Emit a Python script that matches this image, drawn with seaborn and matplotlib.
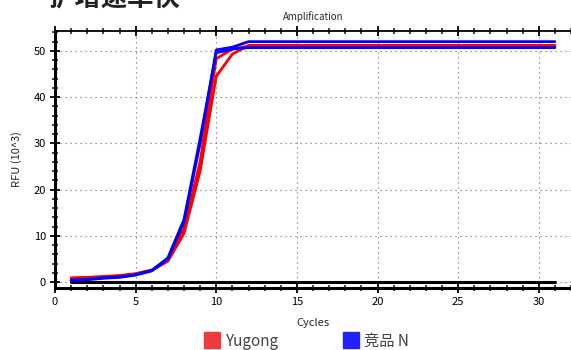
import numpy as np
import pandas as pd
import matplotlib
matplotlib.use("Agg")
import matplotlib.pyplot as plt
from matplotlib.ticker import MultipleLocator
from matplotlib.lines import Line2D
import seaborn as sns

cycles = list(range(1, 32))
yugong_rep1 = [0.8, 0.9, 1.1, 1.3, 1.7, 2.5, 4.5, 10.5, 24.0, 44.5, 49.3] + [51.2] * 20
yugong_rep2 = [0.9, 1.0, 1.2, 1.4, 1.8, 2.6, 4.8, 11.5, 26.0, 48.3, 50.4] + [51.0] * 20
jingpin_rep1 = [0.3, 0.5, 0.8, 1.0, 1.5, 2.4, 5.0, 13.0, 30.0, 50.2, 50.8] + [52.0] * 20
jingpin_rep2 = [0.4, 0.6, 0.9, 1.1, 1.6, 2.5, 5.2, 13.5, 31.0, 49.6, 50.4] + [50.7] * 20
threshold = 0.0

series_names = ["Yugong", "竞品 N"]
line_colors = ["#ff0000", "#0000ff"]
legend_colors = ["#ee3b3b", "#2222ff"]

rows = []
for name, reps in [("Yugong", [yugong_rep1, yugong_rep2]), ("竞品 N", [jingpin_rep1, jingpin_rep2])]:
    for r, vals in enumerate(reps):
        for c, v in zip(cycles, vals):
            rows.append({"Cycles": c, "RFU": v, "series": name, "rep": r})
df = pd.DataFrame(rows)

sns.set_theme(style="white")
plt.rcParams["font.family"] = ["Noto Sans CJK SC", "DejaVu Sans"]

fig = plt.figure(figsize=(5.71, 3.5), dpi=100)
ax = fig.add_axes([55 / 571, 62 / 350, 1 - 55 / 571, (288 - 31) / 350])

sns.lineplot(data=df, x="Cycles", y="RFU", hue="series", units="rep", estimator=None,
             palette=dict(zip(series_names, line_colors)), hue_order=series_names,
             linewidth=2.0, ax=ax, legend=False, sort=False)

ax.plot([cycles[0], cycles[-1]], [threshold, threshold], color="black", lw=2.2, zorder=1)

ax.set_xlim(0, 32)
ax.set_ylim(-1.3, 54.3)
ax.xaxis.set_major_locator(MultipleLocator(5))
ax.xaxis.set_minor_locator(MultipleLocator(1))
ax.yaxis.set_major_locator(MultipleLocator(10))
ax.yaxis.set_minor_locator(MultipleLocator(2))
ax.tick_params(axis="both", which="major", direction="inout", length=7, width=1.3,
               labelsize=8, colors="black", top=True, bottom=True, left=True)
ax.tick_params(axis="both", which="minor", direction="inout", length=4, width=1.2,
               top=True, bottom=True, left=True)
ax.tick_params(axis="x", pad=3)
ax.tick_params(axis="y", pad=3)
ax.grid(True, which="major", linestyle=(0, (1, 3.5)), color="#666666", linewidth=0.8)
ax.set_axisbelow(True)

for s in ["left", "bottom"]:
    ax.spines[s].set_linewidth(2.2)
    ax.spines[s].set_color("black")
ax.spines["top"].set_linewidth(1.3)
ax.spines["top"].set_color("black")
ax.spines["right"].set_visible(False)

ax.set_xlabel("Cycles", fontsize=8, labelpad=8)
ax.set_ylabel("RFU (10^3)", fontsize=8, labelpad=8)
ax.set_title("Amplification", fontsize=7, pad=8)

fig.text(48 / 571, 1 - 7 / 350, "扩增速率快", fontsize=19, fontweight="bold",
         color="#222222", ha="left", va="baseline")

handles = [Line2D([], [], marker="s", linestyle="none", markersize=12,
                  markerfacecolor=c, markeredgecolor=c) for c in legend_colors]
fig.legend(handles, series_names, loc="center", bbox_to_anchor=(306 / 571, 1 - 341 / 350),
           ncol=2, frameon=False, fontsize=11, labelcolor="#444444",
           columnspacing=4.1, handletextpad=0.3, handlelength=1.2)

fig.savefig("out.png", dpi=100)
